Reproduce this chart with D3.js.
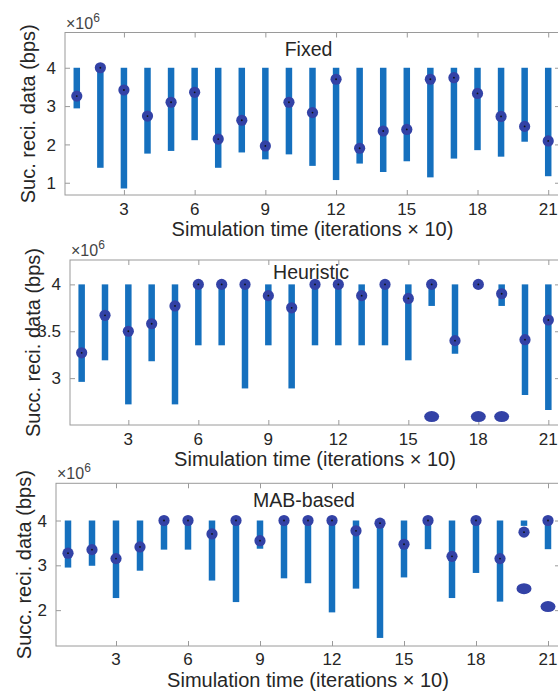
<!DOCTYPE html>
<html>
<head>
<meta charset="utf-8">
<script src="https://cdn.jsdelivr.net/npm/d3@7"></script>
<style>
  body { margin: 0; background: #fff; }
  text { font-family: "Liberation Sans", Arial, sans-serif; fill: #262626; }
</style>
</head>
<body>
<script>
// ----- data (values in units of 10^6 bps) -----
const iterations = [1,2,3,4,5,6,7,8,9,10,11,12,13,14,15,16,17,18,19,20,21];
const xTicks = [3,6,9,12,15,18,21];

const fixedMean = [3.26,4.00,3.42,2.74,3.10,3.36,2.14,2.63,1.96,3.10,2.83,3.70,1.90,2.35,2.39,3.70,3.74,3.33,2.73,2.47,2.09];
const fixedLow  = [2.94,1.39,0.85,1.76,1.83,2.11,1.39,1.79,1.61,1.74,1.44,1.07,1.50,1.28,1.56,1.14,1.63,1.85,1.68,2.07,1.17];
const fixedHigh = [4,4,4,4,4,4,4,4,4,4,4,4,4,4,4,4,4,4,4,4,4];
const fixedOut  = [null,null,null,null,null,null,null,null,null,null,null,null,null,null,null,null,null,null,null,null,null];

const heurMean = [3.27,3.67,3.50,3.58,3.77,4.00,4.00,4.00,3.88,3.75,4.00,4.00,3.88,4.00,3.85,4.00,3.40,4.00,3.90,3.41,3.62];
const heurLow  = [2.96,3.19,2.72,3.18,2.72,3.35,3.35,2.89,3.35,2.89,3.35,3.35,3.35,3.35,3.19,3.77,3.26,4.00,3.77,2.82,2.66];
const heurHigh = [4,4,4,4,4,4,4,4,4,4,4,4,4,4,4,4,4,4,4,4,4];
const heurOut  = [null,null,null,null,null,null,null,null,null,null,null,null,null,null,null,2.59,null,2.59,2.59,null,null];

const mabMean = [3.27,3.35,3.15,3.41,4.00,4.00,3.70,4.00,3.55,4.00,4.00,4.00,3.77,3.94,3.47,4.00,3.20,4.00,3.15,3.74,4.00];
const mabLow  = [2.95,2.99,2.27,2.88,3.35,3.35,2.66,2.18,3.37,2.71,2.60,1.95,2.48,1.38,2.73,3.36,2.27,2.83,2.19,3.88,3.36];
const mabHigh = [4,4,4,4,4,4,4,4,4,4,4,4,4,4,4,4,4,4,4,4,4];
const mabOut  = [null,null,null,null,null,null,null,null,null,null,null,null,null,null,null,null,null,null,null,2.48,2.08];

const panels = [
  { title: "Fixed", yLabel: "Suc. reci. data (bps)", yDomain: [0.68, 4.92], yTicks: [1,2,3,4],
    mean: fixedMean, low: fixedLow, high: fixedHigh, out: fixedOut,
    left: 65, right: 560, top: 32.5, bottom: 195, titleDy: 23, labelX: 35, tickDy: 20, xLabelDy: 41 },
  { title: "Heuristic", yLabel: "Succ. reci. data (bps)", yDomain: [2.5, 4.26], yTicks: [3,3.5,4],
    mean: heurMean, low: heurLow, high: heurHigh, out: heurOut,
    left: 70, right: 560, top: 260, bottom: 425, titleDy: 19, labelX: 40, tickDy: 20, xLabelDy: 41 },
  { title: "MAB-based", yLabel: "Succ. reci. data (bps)", yDomain: [1.2, 4.83], yTicks: [2,3,4],
    mean: mabMean, low: mabLow, high: mabHigh, out: mabOut,
    left: 56, right: 560, top: 483.3, bottom: 646, titleDy: 24, labelX: 31, tickDy: 19, xLabelDy: 41 }
];

const barColor = "#1570be";
const markColor = "#3342a6";
const axisColor = "#9a9a9a";

const svg = d3.select("body")
    .append("svg")
    .attr("width", 558)
    .attr("height", 692);

panels.forEach(drawPanel);

function drawPanel(p){

    const x = d3.scaleLinear().domain([0.5, 21.5]).range([p.left, p.right]);
    const y = d3.scaleLinear().domain(p.yDomain).range([p.bottom, p.top]);

    const g = svg.append("g");

    // box
    g.append("rect")
        .attr("x", p.left)
        .attr("y", p.top)
        .attr("width", p.right - p.left)
        .attr("height", p.bottom - p.top)
        .attr("fill", "none")
        .attr("stroke", axisColor)
        .attr("stroke-width", 1);

    // axes with inward ticks
    const tickStyle = sel => {
        sel.select(".domain").remove();
        sel.selectAll(".tick line").attr("stroke", axisColor);
        sel.selectAll(".tick text").remove();
    };
    g.append("g").attr("transform", "translate(0," + p.bottom + ")")
        .call(d3.axisBottom(x).tickValues(xTicks).tickSize(-5)).call(tickStyle);
    g.append("g").attr("transform", "translate(0," + p.top + ")")
        .call(d3.axisTop(x).tickValues(xTicks).tickSize(-5)).call(tickStyle);
    g.append("g").attr("transform", "translate(" + p.left + ",0)")
        .call(d3.axisLeft(y).tickValues(p.yTicks).tickSize(-5)).call(tickStyle);
    g.append("g").attr("transform", "translate(" + p.right + ",0)")
        .call(d3.axisRight(y).tickValues(p.yTicks).tickSize(-5)).call(tickStyle);

    // tick labels
    g.selectAll(".xtl")
        .data(xTicks)
        .enter().append("text")
        .attr("x", d => x(d))
        .attr("y", p.bottom + p.tickDy)
        .attr("text-anchor", "middle")
        .style("font-size", "17px")
        .text(d => d);

    g.selectAll(".ytl")
        .data(p.yTicks)
        .enter().append("text")
        .attr("x", p.left - 9)
        .attr("y", d => y(d))
        .attr("dy", "0.36em")
        .attr("text-anchor", "end")
        .style("font-size", "17px")
        .text(d => d);

    // x10^6 multiplier
    const mult = g.append("text")
        .attr("x", p.left + 1)
        .attr("y", p.top - 4)
        .style("font-size", "16px")
        .style("fill", "#444");
    mult.append("tspan").text("\u00d710");
    mult.append("tspan").attr("dy", -7).style("font-size", "12px").text("6");

    // axis labels
    g.append("text")
        .attr("x", (p.left + p.right) / 2)
        .attr("y", p.bottom + p.xLabelDy)
        .attr("text-anchor", "middle")
        .style("font-size", "20px")
        .text("Simulation time (iterations \u00d7 10)");

    g.append("text")
        .attr("transform", "translate(" + p.labelX + "," + (p.top + p.bottom) / 2 + ") rotate(-90)")
        .attr("text-anchor", "middle")
        .style("font-size", "20px")
        .text(p.yLabel);

    // title
    g.append("text")
        .attr("x", (p.left + p.right) / 2 - 4)
        .attr("y", p.top + p.titleDy)
        .attr("text-anchor", "middle")
        .style("font-size", "19.5px")
        .text(p.title);

    // range bars
    g.selectAll(".bar")
        .data(iterations)
        .enter().append("line")
        .attr("x1", d => x(d))
        .attr("x2", d => x(d))
        .attr("y1", (d, i) => y(p.high[i]))
        .attr("y2", (d, i) => y(p.low[i]))
        .attr("stroke", barColor)
        .attr("stroke-width", 6.5);

    // outliers
    const outs = iterations.map((d, i) => ({ t: d, v: p.out[i] })).filter(d => d.v !== null);
    g.selectAll(".outlier")
        .data(outs)
        .enter().append("ellipse")
        .attr("cx", d => x(d.t))
        .attr("cy", d => y(d.v))
        .attr("rx", 7.5)
        .attr("ry", 5.5)
        .attr("fill", markColor);

    // mean markers
    g.selectAll(".mark")
        .data(iterations)
        .enter().append("circle")
        .attr("cx", d => x(d))
        .attr("cy", (d, i) => y(p.mean[i]))
        .attr("r", 5.6)
        .attr("fill", markColor);

    g.selectAll(".dot")
        .data(iterations)
        .enter().append("circle")
        .attr("cx", d => x(d))
        .attr("cy", (d, i) => y(p.mean[i]))
        .attr("r", 0.9)
        .attr("fill", "#111");
}
</script>
</body>
</html>
